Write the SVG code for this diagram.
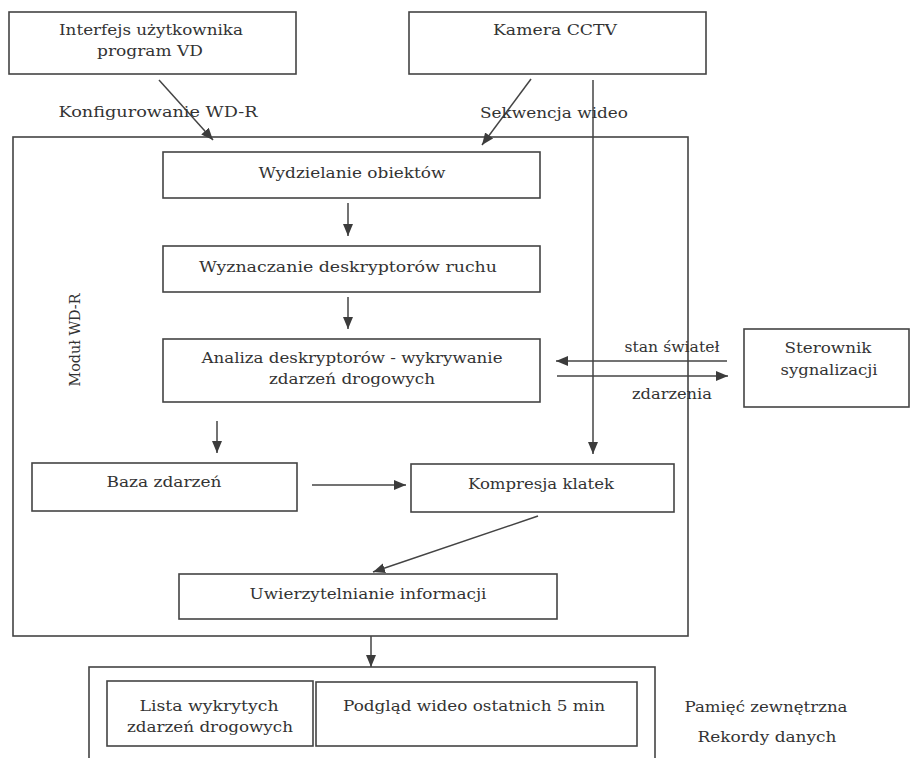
<svg xmlns="http://www.w3.org/2000/svg" width="911" height="758" viewBox="0 0 911 758">
<defs>
<marker id="ah" markerUnits="userSpaceOnUse" markerWidth="14" markerHeight="12" refX="12" refY="5" orient="auto">
<path d="M0,0 L12,5 L0,10 Z" fill="#3c3c3c"/>
</marker>
<style>
.box{fill:none;stroke:#444;stroke-width:1.6}
.ln{fill:none;stroke:#444;stroke-width:1.5}
.ar{fill:none;stroke:#444;stroke-width:1.5;marker-end:url(#ah)}
text{font-family:"DejaVu Serif","Liberation Serif",serif;font-size:15px;fill:#333;text-anchor:middle}
.sm{font-size:14px}
</style>
</defs>
<rect width="911" height="758" fill="#fff"/>

<g id="modul">
<rect class="box" x="13" y="137" width="675" height="499"/>
<text transform="translate(80,340) rotate(-90)" textLength="93" lengthAdjust="spacingAndGlyphs">Moduł WD-R</text>
</g>

<g id="interfejs">
<rect class="box" x="9" y="12" width="287" height="62"/>
<text x="151" y="35" textLength="184" lengthAdjust="spacingAndGlyphs">Interfejs użytkownika</text>
<text x="150" y="56" textLength="106" lengthAdjust="spacingAndGlyphs">program VD</text>
</g>

<g id="kamera">
<rect class="box" x="409" y="12" width="297" height="62"/>
<text x="555" y="35" textLength="124" lengthAdjust="spacingAndGlyphs">Kamera CCTV</text>
</g>

<g id="wydzielanie">
<rect class="box" x="163" y="152" width="377" height="46"/>
<text x="352" y="178" textLength="187" lengthAdjust="spacingAndGlyphs">Wydzielanie obiektów</text>
</g>

<g id="wyznaczanie">
<rect class="box" x="163" y="246" width="377" height="46"/>
<text x="348" y="272" textLength="298" lengthAdjust="spacingAndGlyphs">Wyznaczanie deskryptorów ruchu</text>
</g>

<g id="analiza">
<rect class="box" x="163" y="339" width="377" height="63"/>
<text x="352" y="363" textLength="301" lengthAdjust="spacingAndGlyphs">Analiza deskryptorów - wykrywanie</text>
<text x="352" y="384" textLength="166" lengthAdjust="spacingAndGlyphs">zdarzeń drogowych</text>
</g>

<g id="sterownik">
<rect class="box" x="744" y="329" width="165" height="78"/>
<text x="828" y="353" textLength="87" lengthAdjust="spacingAndGlyphs">Sterownik</text>
<text x="829" y="375" textLength="97" lengthAdjust="spacingAndGlyphs">sygnalizacji</text>
</g>

<g id="baza">
<rect class="box" x="32" y="463" width="265" height="48"/>
<text x="164" y="487" textLength="115" lengthAdjust="spacingAndGlyphs">Baza zdarzeń</text>
</g>

<g id="kompresja">
<rect class="box" x="411" y="464" width="263" height="48"/>
<text x="541" y="489" textLength="146" lengthAdjust="spacingAndGlyphs">Kompresja klatek</text>
</g>

<g id="uwierzytelnianie">
<rect class="box" x="179" y="574" width="378" height="45"/>
<text x="368" y="599" textLength="237" lengthAdjust="spacingAndGlyphs">Uwierzytelnianie informacji</text>
</g>

<g id="pamiec">
<rect class="box" x="89" y="667" width="566" height="100"/>
<text x="766" y="712" textLength="163" lengthAdjust="spacingAndGlyphs">Pamięć zewnętrzna</text>
<text x="767" y="742" textLength="139" lengthAdjust="spacingAndGlyphs">Rekordy danych</text>
</g>

<g id="lista">
<rect class="box" x="107" y="681" width="206" height="65"/>
<text x="209" y="711" textLength="139" lengthAdjust="spacingAndGlyphs">Lista wykrytych</text>
<text x="210" y="732" textLength="166" lengthAdjust="spacingAndGlyphs">zdarzeń drogowych</text>
</g>

<g id="podglad">
<rect class="box" x="316" y="682" width="321" height="64"/>
<text x="474" y="711" textLength="262" lengthAdjust="spacingAndGlyphs">Podgląd wideo ostatnich 5 min</text>
</g>

<g id="connectors">
<line class="ar" x1="159" y1="80" x2="213" y2="140"/>
<line class="ar" x1="531" y1="79" x2="482" y2="145"/>
<line class="ar" x1="348" y1="203" x2="348" y2="236"/>
<line class="ar" x1="348" y1="297" x2="348" y2="329"/>
<line class="ar" x1="727" y1="361" x2="556" y2="361"/>
<line class="ar" x1="557" y1="376" x2="728" y2="376"/>
<line class="ar" x1="593" y1="80" x2="593" y2="454"/>
<line class="ar" x1="217" y1="421" x2="217" y2="453"/>
<line class="ar" x1="312" y1="485" x2="406" y2="485"/>
<line class="ar" x1="538" y1="516" x2="373" y2="572"/>
<line class="ar" x1="371" y1="636" x2="371" y2="667"/>
<text x="158" y="117" textLength="199" lengthAdjust="spacingAndGlyphs">Konfigurowanie WD-R</text>
<text x="554" y="118" textLength="148" lengthAdjust="spacingAndGlyphs">Sekwencja wideo</text>
<text class="sm" x="672" y="352" textLength="95" lengthAdjust="spacingAndGlyphs">stan świateł</text>
<text class="sm" x="672" y="399" textLength="80" lengthAdjust="spacingAndGlyphs">zdarzenia</text>
</g>
</svg>
